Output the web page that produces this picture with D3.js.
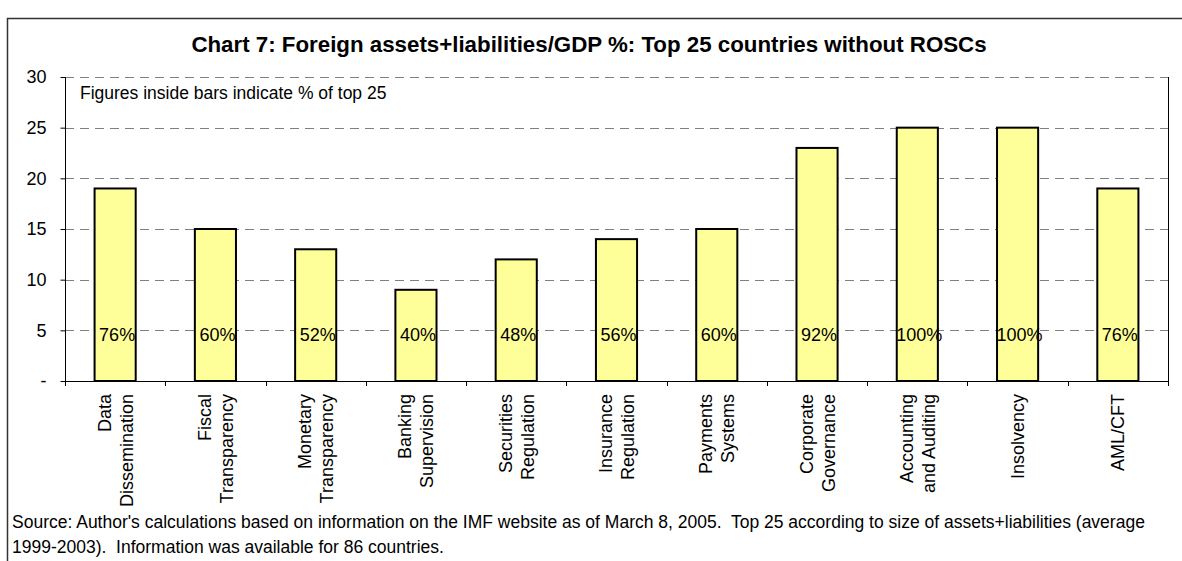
<!DOCTYPE html>
<html>
<head>
<meta charset="utf-8">
<script src="https://cdn.jsdelivr.net/npm/d3@7"></script>
<style>
  html, body { margin: 0; padding: 0; background: #fff; }
  svg { display: block; font-family: "Liberation Sans", Arial, sans-serif; }
  text { white-space: pre; }
</style>
</head>
<body>
<svg id="chart" width="1182" height="561"></svg>
<script>
const categories = [
  ["Data", "Dissemination"],
  ["Fiscal", "Transparency"],
  ["Monetary", "Transparency"],
  ["Banking", "Supervision"],
  ["Securities", "Regulation"],
  ["Insurance", "Regulation"],
  ["Payments", "Systems"],
  ["Corporate", "Governance"],
  ["Accounting", "and Auditing"],
  ["Insolvency"],
  ["AML/CFT"]
];
const values = [19, 15, 13, 9, 12, 14, 15, 23, 25, 25, 19];
const shareLabels = ["76%", "60%", "52%", "40%", "48%", "56%", "60%", "92%", "100%", "100%", "76%"];
const yTicks = [0, 5, 10, 15, 20, 25, 30];
const yTickLabels = ["-", "5", "10", "15", "20", "25", "30"];
const titleText = "Chart 7: Foreign assets+liabilities/GDP %: Top 25 countries without ROSCs";
const noteText = "Figures inside bars indicate % of top 25";
const sourceLines = [
  "Source: Author's calculations based on information on the IMF website as of March 8, 2005.  Top 25 according to size of assets+liabilities (average",
  "1999-2003).  Information was available for 86 countries."
];

const svg = d3.select("#chart");
const pLeft = 65, pRight = 1168, pTop = 77, pBottom = 381;

const x = d3.scaleBand().domain(d3.range(categories.length)).range([pLeft, pRight]).paddingInner(0.59).paddingOuter(0.295);
const xb = d3.scaleBand().domain(d3.range(categories.length)).range([pLeft, pRight]);
const y = d3.scaleLinear().domain([0, 30]).range([pBottom, pTop]);

// outer frame
svg.append("path")
  .attr("d", `M7.5,561 L7.5,18.5 L1182,18.5`)
  .attr("fill", "none").attr("stroke", "#333").attr("stroke-width", 1.5);

// title
svg.append("text").attr("x", 589).attr("y", 52).attr("text-anchor", "middle")
  .attr("font-size", 22.3).attr("font-weight", "bold").attr("fill", "#000").text(titleText);

// gridlines
svg.append("g").selectAll("line").data(yTicks.filter(d => d > 0)).join("line")
  .attr("x1", pLeft).attr("x2", pRight)
  .attr("y1", d => Math.round(y(d)) + 0.5).attr("y2", d => Math.round(y(d)) + 0.5)
  .attr("stroke", "#808080").attr("stroke-width", 1.2).attr("stroke-dasharray", "9,6");

// right border of plot
svg.append("line").attr("x1", pRight + 0.5).attr("x2", pRight + 0.5).attr("y1", pTop).attr("y2", pBottom + 5)
  .attr("stroke", "#000").attr("stroke-width", 1);

// bars
svg.append("g").selectAll("rect").data(values).join("rect")
  .attr("x", (d, i) => x(i)).attr("width", x.bandwidth())
  .attr("y", d => y(d)).attr("height", d => y(0) - y(d))
  .attr("fill", "#FFFF99").attr("stroke", "#000").attr("stroke-width", 2);

// y axis
const yAxis = d3.axisLeft(y).tickValues(yTicks).tickSize(5).tickPadding(14)
  .tickFormat((d, i) => yTickLabels[i]);
const gy = svg.append("g").attr("transform", `translate(${pLeft + 0.5},0)`).call(yAxis);
gy.select(".domain").attr("stroke", "#000").attr("d", `M0,${pTop}V${pBottom}`);
gy.selectAll(".tick line").attr("stroke", "#000");
gy.selectAll(".tick text").attr("font-size", 18).attr("fill", "#000")
  .attr("font-family", "Liberation Sans, Arial, sans-serif");

// x axis
const xAxis = d3.axisBottom(xb).tickSize(0).tickFormat("");
const gx = svg.append("g").attr("transform", `translate(0,${Math.round(y(0)) + 0.5})`).call(xAxis);
gx.select(".domain").attr("stroke", "#000").attr("d", `M${pLeft},0H${pRight}`);
gx.selectAll(".tick").remove();
svg.append("g").selectAll("line").data(d3.range(categories.length + 1)).join("line")
  .attr("x1", i => Math.round(pLeft + i * xb.step()) + 0.5).attr("x2", i => Math.round(pLeft + i * xb.step()) + 0.5)
  .attr("y1", pBottom).attr("y2", pBottom + 5).attr("stroke", "#000");

// category labels
const lineGap = 22;
categories.forEach((lines, i) => {
  const cx = xb(i) + xb.bandwidth() / 2;
  const n = lines.length;
  lines.forEach((t, j) => {
    const off = (j - (n - 1) / 2) * lineGap;
    svg.append("text")
      .attr("transform", `translate(${cx + off + 6.5},${pBottom + 13}) rotate(-90)`)
      .attr("text-anchor", "end").attr("font-size", 18).attr("fill", "#000").text(t);
  });
});

// labels inside bars
svg.append("g").selectAll("text").data(shareLabels).join("text")
  .attr("x", (d, i) => x(i) + x.bandwidth() / 2 + 2)
  .attr("y", y(4.6) + 6.5)
  .attr("text-anchor", "middle").attr("font-size", 18).attr("fill", "#000").text(d => d);

// note
svg.append("text").attr("x", 80).attr("y", 99).attr("font-size", 17.5).attr("fill", "#000").text(noteText);

// source
svg.append("g").selectAll("text").data(sourceLines).join("text")
  .attr("x", 12).attr("y", (d, i) => 528 + i * 25)
  .attr("font-size", 17.5).attr("fill", "#000").text(d => d);
</script>
</body>
</html>
